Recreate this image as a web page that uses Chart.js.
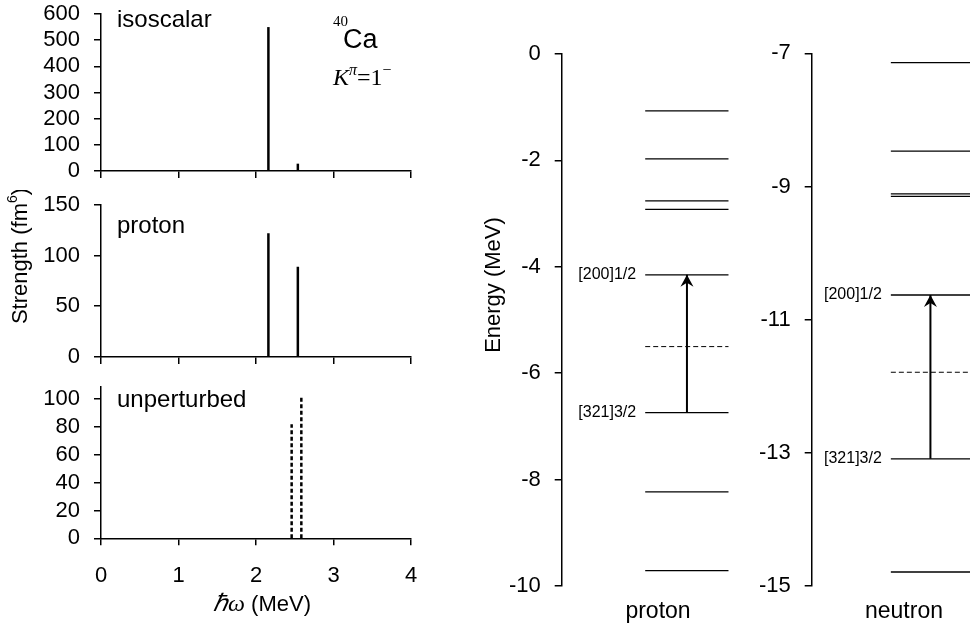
<!DOCTYPE html>
<html>
<head>
<meta charset="utf-8">
<script src="https://cdn.jsdelivr.net/npm/chart.js@4"></script>
<style>
  body { margin: 0; background: #fff; }
  #wrap { position: relative; width: 972px; height: 629px; }
  canvas { position: absolute; }
</style>
</head>
<body>
<div id="wrap">
  <canvas id="iso" width="430" height="182" style="left:0;top:0"></canvas>
  <canvas id="prot" width="430" height="178" style="left:0;top:190px"></canvas>
  <canvas id="unpert" width="430" height="257" style="left:0;top:372px"></canvas>
  <canvas id="plev" width="262" height="599" style="left:470px;top:30px"></canvas>
  <canvas id="nlev" width="232" height="599" style="left:740px;top:30px"></canvas>
</div>
<script>
// strength spectra (MeV, fm^6)
const isoX = [2.16, 2.54];
const isoY = [550, 28];
const protonX = [2.16, 2.54];
const protonY = [122, 89];
const unpertX = [2.46, 2.585];
const unpertY = [82, 101];

// tick values
const omegaTicks = [0, 1, 2, 3, 4];
const isoTicks = [0, 100, 200, 300, 400, 500, 600];
const protonTicks = [0, 50, 100, 150];
const unpertTicks = [0, 20, 40, 60, 80, 100];
const protonLevelTicks = [-10, -8, -6, -4, -2, 0];
const neutronLevelTicks = [-15, -13, -11, -9, -7];

// single-particle levels (MeV)
const protonLevels = [-1.07, -1.97, -2.76, -2.92, -4.15, -6.74, -8.23, -9.71];
const protonFermi = -5.50;
const protonArrow = [-6.74, -4.15];
const neutronLevels = [-7.14, -8.47, -9.11, -9.15, -10.63, -13.09, -14.79];
const neutronFermi = -11.79;
const neutronArrow = [-13.09, -10.63];
const arrowLabels = ['[321]3/2', '[200]1/2'];

const SANS = '"Liberation Sans", Arial, sans-serif';
const SERIF = '"Liberation Serif", "Times New Roman", serif';

Chart.defaults.font.family = SANS;
Chart.defaults.color = '#000';
Chart.defaults.animation = false;
Chart.defaults.responsive = false;
Chart.defaults.devicePixelRatio = 1;
Chart.defaults.plugins.legend.display = false;
Chart.defaults.plugins.tooltip.enabled = false;

// free text, optionally made of several font runs
const texts = {
  id: 'texts',
  afterDraw(chart, args, opts) {
    const ctx = chart.ctx;
    (opts.items || []).forEach(t => {
      const runs = t.runs || [{ text: t.text, font: t.font }];
      let x = t.x, y = t.y;
      if (t.xv !== undefined) x = chart.scales.x.getPixelForValue(t.xv) + (t.dx || 0);
      if (t.yv !== undefined) y = chart.scales.y.getPixelForValue(t.yv);
      ctx.save();
      ctx.translate(x, y);
      if (t.rotate) ctx.rotate(t.rotate);
      ctx.fillStyle = '#000';
      ctx.textBaseline = 'middle';
      ctx.textAlign = 'left';
      let total = 0;
      runs.forEach(r => { ctx.font = r.font; total += ctx.measureText(r.text).width; });
      let cx = t.align === 'center' ? -total / 2 : t.align === 'right' ? -total : 0;
      runs.forEach(r => {
        ctx.font = r.font;
        ctx.fillText(r.text, cx, r.dy || 0);
        cx += ctx.measureText(r.text).width;
      });
      ctx.restore();
    });
  }
};

// arrow heads at the top end of the transition
const arrowHead = {
  id: 'arrowHead',
  afterDatasetsDraw(chart, args, opts) {
    if (!opts.at) return;
    const ctx = chart.ctx;
    const px = chart.scales.x.getPixelForValue(opts.at.x);
    const py = chart.scales.y.getPixelForValue(opts.at.y);
    ctx.save();
    ctx.fillStyle = '#000';
    ctx.beginPath();
    ctx.moveTo(px, py);
    ctx.lineTo(px - 6.5, py + 12);
    ctx.lineTo(px, py + 8);
    ctx.lineTo(px + 6.5, py + 12);
    ctx.closePath();
    ctx.fill();
    ctx.restore();
  }
};

function sticks(xs, ys, dash) {
  return xs.map((x, i) => ({
    data: [{ x: x, y: 0 }, { x: x, y: ys[i] }],
    showLine: true,
    borderColor: '#000',
    borderWidth: 2.5,
    borderDash: dash || [],
    pointRadius: 0
  }));
}

const axisGrid = { drawOnChartArea: false, tickLength: 7, color: '#000', lineWidth: 1.5 };
const axisBorder = { color: '#000', width: 1.5 };

// fixed axis sizes, no extra label padding so the plot areas line up
function fitY(width) {
  return s => { s.width = width; s.paddingTop = 0; s.paddingBottom = 0; };
}
function fitX(height) {
  return s => { s.height = height; s.paddingLeft = 0; s.paddingRight = 0; };
}
function useTicks(values) {
  return s => { s.ticks = values.map(v => ({ value: v })); };
}

function spectrumOptions(ymax, yTicks, padTop, xHeight, showX, items) {
  return {
    layout: { padding: { top: padTop, right: 19, left: 0, bottom: 0 } },
    scales: {
      x: {
        type: 'linear', min: omegaTicks[0], max: omegaTicks[omegaTicks.length - 1],
        ticks: { display: showX, autoSkip: false, padding: 17, font: { size: 22 } },
        grid: axisGrid, border: axisBorder,
        afterBuildTicks: useTicks(omegaTicks),
        afterFit: fitX(xHeight)
      },
      y: {
        min: 0, max: ymax,
        ticks: { autoSkip: false, padding: 14, font: { size: 22 } },
        grid: axisGrid, border: axisBorder,
        afterBuildTicks: useTicks(yTicks),
        afterFit: fitY(101)
      }
    },
    plugins: { texts: { items: items } }
  };
}

new Chart(document.getElementById('iso'), {
  type: 'scatter',
  data: { datasets: sticks(isoX, isoY) },
  options: spectrumOptions(600, isoTicks, 14, 11, false, [
    { text: 'isoscalar', font: '24px ' + SANS, x: 117, y: 20 },
    { text: '40', font: '15px ' + SERIF, x: 333, y: 22 },
    { text: 'Ca', font: '27px ' + SANS, x: 343, y: 41 },
    { x: 333, y: 79, runs: [
      { text: 'K', font: 'italic 24px ' + SERIF },
      { text: 'π', font: 'italic 16px ' + SERIF, dy: -8 },
      { text: '=1', font: '24px ' + SERIF },
      { text: '−', font: '16px ' + SERIF, dy: -8 }
    ] }
  ]),
  plugins: [texts]
});

new Chart(document.getElementById('prot'), {
  type: 'scatter',
  data: { datasets: sticks(protonX, protonY) },
  options: spectrumOptions(150, protonTicks, 14.7, 11, false, [
    { text: 'proton', font: '24px ' + SANS, x: 117, y: 36 },
    { x: 21, y: 66, rotate: -Math.PI / 2, align: 'center', runs: [
      { text: 'Strength (fm', font: '22px ' + SANS },
      { text: '6', font: '14px ' + SANS, dy: -8 },
      { text: ')', font: '22px ' + SANS }
    ] }
  ]),
  plugins: [texts]
});

new Chart(document.getElementById('unpert'), {
  type: 'scatter',
  data: { datasets: sticks(unpertX, unpertY, [4, 2.5]) },
  options: spectrumOptions(109, unpertTicks, 14.7, 90.7, true, [
    { text: 'unperturbed', font: '24px ' + SANS, x: 117, y: 28 },
    { x: 262, y: 233, align: 'center', runs: [
      { text: 'ℏω', font: 'italic 24px ' + SERIF },
      { text: ' (MeV)', font: '22px ' + SANS }
    ] }
  ]),
  plugins: [texts]
});

function levelChart(id, levels, fermi, arrow, yTicks, yWidth, padTop, padRight, items) {
  const datasets = levels.map(e => ({
    data: [{ x: 0.5, y: e }, { x: 1, y: e }],
    showLine: true, borderColor: '#000', borderWidth: 1.3, pointRadius: 0
  }));
  datasets.push({
    data: [{ x: 0.5, y: fermi }, { x: 1, y: fermi }],
    showLine: true, borderColor: '#000', borderWidth: 1, borderDash: [5, 3], pointRadius: 0
  });
  datasets.push({
    data: [{ x: 0.75, y: arrow[0] }, { x: 0.75, y: arrow[1] }],
    showLine: true, borderColor: '#000', borderWidth: 2, pointRadius: 0
  });
  arrow.forEach((e, i) => {
    items.push({ text: arrowLabels[i], font: '16px ' + SANS, xv: 0.5, dx: -9, yv: e, align: 'right' });
  });
  new Chart(document.getElementById(id), {
    type: 'scatter',
    data: { datasets: datasets },
    options: {
      layout: { padding: { top: padTop, right: padRight, left: 0, bottom: 43 } },
      scales: {
        x: { type: 'linear', display: false, min: 0, max: 1 },
        y: {
          min: yTicks[0], max: yTicks[yTicks.length - 1],
          ticks: { autoSkip: false, padding: 14, font: { size: 22 } },
          grid: axisGrid, border: axisBorder,
          afterBuildTicks: useTicks(yTicks),
          afterFit: fitY(yWidth)
        }
      },
      plugins: {
        texts: { items: items },
        arrowHead: { at: { x: 0.75, y: arrow[1] } }
      }
    },
    plugins: [texts, arrowHead]
  });
}

levelChart('plev', protonLevels, protonFermi, protonArrow, protonLevelTicks, 91.7, 24, 3.3, [
  { x: 24, y: 255, rotate: -Math.PI / 2, align: 'center', text: 'Energy (MeV)', font: '22px ' + SANS },
  { x: 188, y: 582, align: 'center', text: 'proton', font: '23px ' + SANS }
]);

levelChart('nlev', neutronLevels, neutronFermi, neutronArrow, neutronLevelTicks, 71.7, 23.3, 2, [
  { x: 164, y: 582, align: 'center', text: 'neutron', font: '23px ' + SANS }
]);
</script>
</body>
</html>
